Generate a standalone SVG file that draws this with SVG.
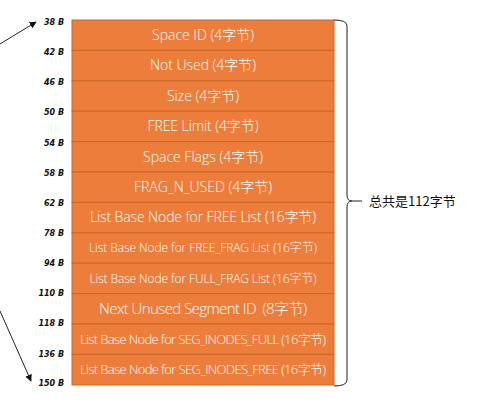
<svg xmlns="http://www.w3.org/2000/svg" width="486" height="401" viewBox="0 0 486 401">
<defs>
<style>
.cell{fill:#EC7D3A;stroke:#C9672A;stroke-width:1}
.t{fill:#ffffff;font-family:"Open Sans","Noto Sans","Noto Sans CJK SC",sans-serif;font-weight:300;text-anchor:middle}
.lb{fill:#111;font-family:"DejaVu Sans",sans-serif;font-weight:bold;font-style:italic;font-size:8px;text-anchor:end}
.ln{stroke:#222;stroke-width:1;fill:none}
</style>
<marker id="ah" viewBox="0 0 10 10" refX="9" refY="5" markerWidth="7" markerHeight="7" orient="auto" markerUnits="userSpaceOnUse">
<path d="M0,0 L10,5 L0,10 z" fill="#111"/>
</marker>
</defs>
<rect width="486" height="401" fill="#ffffff"/>
<g id="rows">
<g id="r1"><rect class="cell" x="72" y="20" width="262" height="30.4"/><text class="t" x="203" y="40" font-size="14" textLength="102">Space ID (4字节)</text></g>
<g id="r2"><rect class="cell" x="72" y="50.4" width="262" height="30.4"/><text class="t" x="203" y="70.4" font-size="14" textLength="106">Not Used (4字节)</text></g>
<g id="r3"><rect class="cell" x="72" y="80.8" width="262" height="30.4"/><text class="t" x="203" y="100.8" font-size="14" textLength="72">Size (4字节)</text></g>
<g id="r4"><rect class="cell" x="72" y="111.2" width="262" height="30.4"/><text class="t" x="203" y="131.2" font-size="14" textLength="111">FREE Limit (4字节)</text></g>
<g id="r5"><rect class="cell" x="72" y="141.6" width="262" height="30.4"/><text class="t" x="203" y="161.6" font-size="14" textLength="120">Space Flags (4字节)</text></g>
<g id="r6"><rect class="cell" x="72" y="172" width="262" height="30.4"/><text class="t" x="203" y="192" font-size="14" textLength="138">FRAG_N_USED (4字节)</text></g>
<g id="r7"><rect class="cell" x="72" y="202.4" width="262" height="30.4"/><text class="t" x="203" y="222.4" font-size="14" textLength="226">List Base Node for FREE List (16字节)</text></g>
<g id="r8"><rect class="cell" x="72" y="232.8" width="262" height="30.4"/><text class="t" x="203" y="252.2" font-size="12" textLength="228">List Base Node for FREE_FRAG List (16字节)</text></g>
<g id="r9"><rect class="cell" x="72" y="263.2" width="262" height="30.4"/><text class="t" x="203" y="282.6" font-size="12" textLength="227">List Base Node for FULL_FRAG List (16字节)</text></g>
<g id="r10"><rect class="cell" x="72" y="293.6" width="262" height="30.4"/><text class="t" x="203" y="314" font-size="15" textLength="208" xml:space="preserve">Next Unused Segment ID  (8字节)</text></g>
<g id="r11"><rect class="cell" x="72" y="324" width="262" height="30.4"/><text class="t" x="203" y="343.7" font-size="13" textLength="246">List Base Node for SEG_INODES_FULL (16字节)</text></g>
<g id="r12"><rect class="cell" x="72" y="354.4" width="262" height="30.6"/><text class="t" x="203" y="374.1" font-size="13" textLength="246">List Base Node for SEG_INODES_FREE (16字节)</text></g>
</g>
<g id="offsets">
<text class="lb" x="64" y="25">38 B</text>
<text class="lb" x="64" y="55">42 B</text>
<text class="lb" x="64" y="85.3">46 B</text>
<text class="lb" x="64" y="115">50 B</text>
<text class="lb" x="64" y="146.3">54 B</text>
<text class="lb" x="64" y="176.3">58 B</text>
<text class="lb" x="64" y="206.3">62 B</text>
<text class="lb" x="64" y="236.3">78 B</text>
<text class="lb" x="64" y="266.3">94 B</text>
<text class="lb" x="64" y="296.3">110 B</text>
<text class="lb" x="64" y="326.3">118 B</text>
<text class="lb" x="64" y="357">136 B</text>
<text class="lb" x="64" y="385.7">150 B</text>
</g>
<g id="connectors">
<line class="ln" x1="0" y1="44" x2="36" y2="22" marker-end="url(#ah)"/>
<line class="ln" x1="0" y1="311" x2="31" y2="381" marker-end="url(#ah)"/>
</g>
<g id="brace">
<path class="ln" d="M334,20 Q347,20 347,26 L347,195 Q347,201 352,201 Q347,201 347,207 L347,380 Q347,386 334,386"/>
<line class="ln" x1="352" y1="201" x2="362" y2="201"/>
<text x="369" y="205.5" font-family="'Noto Sans CJK SC',sans-serif" font-size="13" fill="#111">总共是112字节</text>
</g>
</svg>
